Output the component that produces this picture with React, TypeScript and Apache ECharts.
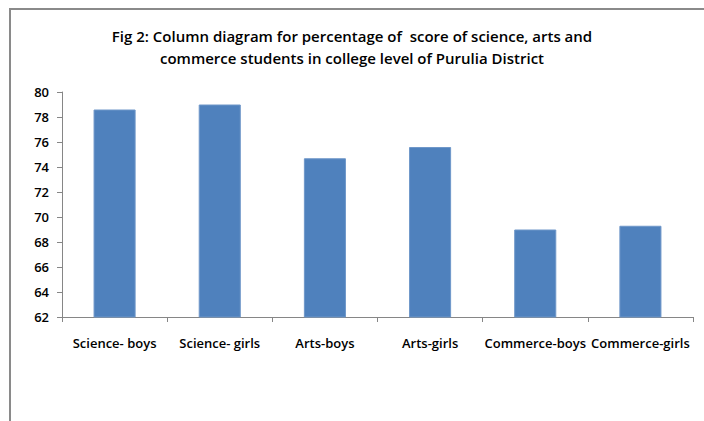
import React, { useEffect, useRef } from "react";
import * as echarts from "echarts";

const titleText = "Fig 2: Column diagram for percentage of  score of science, arts and\ncommerce students in college level of Purulia District";
const categories = ["Science- boys", "Science- girls", "Arts-boys", "Arts-girls", "Commerce-boys", "Commerce-girls"];
const scores = [78.6, 79.0, 74.7, 75.6, 69.0, 69.3];
const yMin = 62;
const yMax = 80;
const yStep = 2;

export default function App() {
  const ref = useRef<HTMLDivElement>(null);
  useEffect(() => {
    if (!ref.current) return;
    const chart = echarts.init(ref.current, undefined, { renderer: "svg" });
    chart.setOption({
      animation: false,
      backgroundColor: "#ffffff",
      title: {
        text: titleText,
        left: "center",
        top: 20,
        textStyle: {
          fontFamily: "Open Sans",
          fontSize: 15,
          fontWeight: 600,
          color: "#000",
          lineHeight: 22,
        },
      },
      graphic: [
        { type: "line", shape: { x1: 9, y1: 9, x2: 704, y2: 9 }, style: { stroke: "#8a8a8a", lineWidth: 2 } },
        { type: "line", shape: { x1: 10, y1: 8, x2: 10, y2: 421 }, style: { stroke: "#8a8a8a", lineWidth: 2 } },
      ],
      grid: { left: 62, right: 11, top: 92, bottom: 104, containLabel: false },
      xAxis: {
        type: "category",
        data: categories,
        axisLine: { show: true, lineStyle: { color: "#868686", width: 1 } },
        axisTick: { show: true, alignWithLabel: false, length: 5, lineStyle: { color: "#868686" } },
        axisLabel: {
          interval: 0,
          margin: 19,
          fontFamily: "Open Sans",
          fontSize: 13,
          fontWeight: 600,
          color: "#000",
        },
      },
      yAxis: {
        type: "value",
        min: yMin,
        max: yMax,
        interval: yStep,
        axisLine: { show: true, lineStyle: { color: "#868686", width: 1 } },
        axisTick: { show: true, length: 5, lineStyle: { color: "#868686" } },
        splitLine: { show: false },
        axisLabel: {
          margin: 13,
          fontFamily: "Open Sans",
          fontSize: 13,
          fontWeight: 600,
          color: "#000",
        },
      },
      series: [
        {
          type: "bar",
          data: scores,
          barWidth: "40%",
          itemStyle: { color: "#4F81BD", borderColor: "#6f97c9", borderWidth: 1 },
        },
      ],
    });
    return () => chart.dispose();
  }, []);
  return <div ref={ref} style={{ position: "absolute", left: 0, top: 0, width: 704, height: 421 }} />;
}
